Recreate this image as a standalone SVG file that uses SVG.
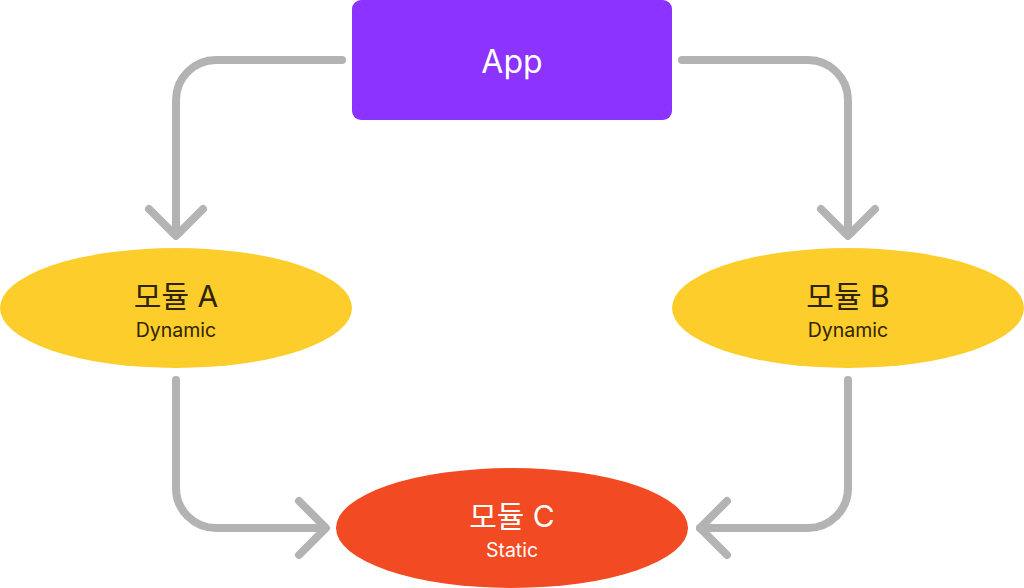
<svg xmlns="http://www.w3.org/2000/svg" width="1024" height="588" viewBox="0 0 1024 588">
<style>
.conn{fill:none;stroke:#b3b3b3;stroke-width:8;stroke-linecap:round;stroke-linejoin:round}
.t{font-family:Inter,"Noto Sans CJK KR","Noto Sans",sans-serif;text-anchor:middle}
.big{font-size:30px}
.small{font-size:19.5px}
.dark{fill:#2e2400}
.light{fill:#ffffff}
</style>
<rect width="1024" height="588" fill="#ffffff"/>
<g id="connectors">
<path class="conn" d="M342 60 H216 A40 40 0 0 0 176 100 V234"/>
<path class="conn" d="M149 209 L176 236 L203 209"/>
<path class="conn" d="M682 60 H808 A40 40 0 0 1 848 100 V234"/>
<path class="conn" d="M821 209 L848 236 L875 209"/>
<path class="conn" d="M176 380 V488 A40 40 0 0 0 216 528 H324"/>
<path class="conn" d="M299 501 L326 528 L299 555"/>
<path class="conn" d="M848 380 V488 A40 40 0 0 1 808 528 H700"/>
<path class="conn" d="M727 501 L700 528 L727 555"/>
</g>
<g id="app">
<rect x="352" y="0" width="320" height="120" rx="9" fill="#8c33ff"/>
<text class="t light" x="512" y="73" font-size="32">App</text>
</g>
<g id="moduleA">
<ellipse cx="176" cy="308" rx="176" ry="60" fill="#fdcd2b"/>
<text class="t big dark" x="176" y="307">모듈 A</text>
<text class="t small dark" x="176" y="337">Dynamic</text>
</g>
<g id="moduleB">
<ellipse cx="848" cy="308" rx="176" ry="60" fill="#fdcd2b"/>
<text class="t big dark" x="848" y="307">모듈 B</text>
<text class="t small dark" x="848" y="337">Dynamic</text>
</g>
<g id="moduleC">
<ellipse cx="512" cy="528" rx="176" ry="60" fill="#f24a22"/>
<text class="t big light" x="512" y="527">모듈 C</text>
<text class="t small light" x="512" y="557">Static</text>
</g>
</svg>
